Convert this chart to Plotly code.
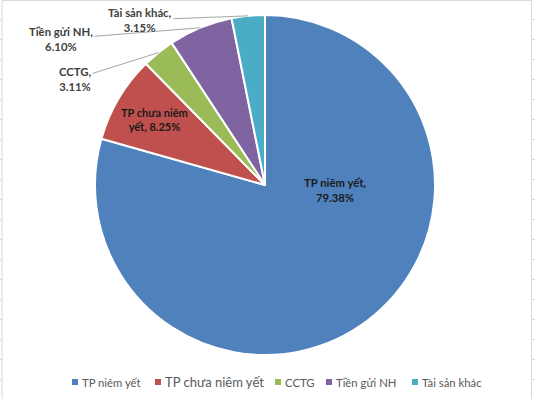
import math
import plotly.graph_objects as go

# ---- data ----
labels = ["TP niêm yết", "TP chưa niêm yết", "CCTG", "Tiền gửi NH", "Tài sản khác"]
values = [79.38, 8.25, 3.11, 6.10, 3.15]
colors = ["#4F81BD", "#C0504D", "#9BBB59", "#8064A2", "#4BACC6"]

W, H = 535, 399
FONT = "Lato"

def px(x):
    return x / W

def py(y):
    return 1 - y / H

# pie geometry (pixels)
cx, cy, r = 265, 185, 170

fig = go.Figure()
fig.add_trace(go.Pie(
    labels=labels, values=values, sort=False, direction="clockwise", rotation=0,
    marker=dict(colors=colors, line=dict(color="white", width=2)),
    textinfo="none", hoverinfo="label+percent", showlegend=False,
    domain=dict(x=[px(cx - r), px(cx + r)], y=[py(cy + r), py(cy - r)]),
))

total = sum(values)
cum = 0
mids = []
for v in values:
    mids.append((cum + v / 2) / total)
    cum += v

def edge(f):
    a = 2 * math.pi * f
    return cx + r * math.sin(a), cy - r * math.cos(a)

def pct(v):
    return f"{v:.2f}%"

LBL = 11.3
annotations = []
# inside labels
annotations.append(dict(x=px(335), y=py(190), xref="paper", yref="paper",
                        xanchor="center", yanchor="middle",
                        text=f"<b>{labels[0]},<br>{pct(values[0])}</b>", showarrow=False,
                        font=dict(family=FONT, size=LBL, color="#1a1a1a"), align="center"))
annotations.append(dict(x=px(154), y=py(119), xref="paper", yref="paper",
                        xanchor="center", yanchor="middle",
                        text=f"<b>TP chưa niêm<br>yết, {pct(values[1])}</b>", showarrow=False,
                        font=dict(family=FONT, size=LBL - 0.3, color="#1a1a1a"), align="center"))

# outside labels with leader lines
outside = {2: (75, 79), 3: (61, 39), 4: (140, 20)}
for i, (lx, ly) in outside.items():
    ex, ey = edge(mids[i])
    annotations.append(dict(
        x=px(ex), y=py(ey), xref="paper", yref="paper",
        ax=lx - ex, ay=ly - ey, axref="pixel", ayref="pixel",
        text=f"<b>{labels[i]},<br>{pct(values[i])}</b>",
        showarrow=True, arrowhead=0, arrowwidth=1, arrowcolor="#A6A6A6", standoff=0,
        font=dict(family=FONT, size=LBL, color="#404040"), align="center"))

# manual legend
shapes = []
leg_sq = [75, 158, 278, 329, 415]
leg_y = 382
for i, lab in enumerate(labels):
    sx = leg_sq[i]
    shapes.append(dict(type="rect", xref="paper", yref="paper",
                       x0=px(sx - 3), x1=px(sx + 3), y0=py(leg_y + 3), y1=py(leg_y - 3),
                       fillcolor=colors[i], line=dict(width=0)))
    size = 13 if i == 1 else 11.3
    annotations.append(dict(x=px(sx + 5), y=py(leg_y), xref="paper", yref="paper",
                            xanchor="left", yanchor="middle", text=lab, showarrow=False,
                            font=dict(family=FONT, size=size, color="#595959")))

# sheet-like border
gray = "#D9D9D9"
shapes.append(dict(type="line", xref="paper", yref="paper", x0=px(2), x1=px(2), y0=0, y1=1,
                   line=dict(color=gray, width=1)))
shapes.append(dict(type="line", xref="paper", yref="paper", x0=px(531.5), x1=px(531.5), y0=0, y1=1,
                   line=dict(color=gray, width=1)))
shapes.append(dict(type="line", xref="paper", yref="paper", x0=px(2), x1=px(531.5), y0=py(0.5), y1=py(0.5),
                   line=dict(color=gray, width=1)))
for k in range(20):
    ty = 19.5 + 20 * k
    if ty > H:
        break
    shapes.append(dict(type="line", xref="paper", yref="paper", x0=0, x1=px(2), y0=py(ty), y1=py(ty),
                       line=dict(color=gray, width=1)))
    shapes.append(dict(type="line", xref="paper", yref="paper", x0=px(531.5), x1=1, y0=py(ty), y1=py(ty),
                       line=dict(color=gray, width=1)))

fig.update_layout(
    width=W, height=H, margin=dict(l=0, r=0, t=0, b=0),
    paper_bgcolor="white", plot_bgcolor="white",
    annotations=annotations, shapes=shapes, showlegend=False,
    font=dict(family=FONT),
)
fig.write_html("out.html", config={"displayModeBar": False},
               post_script="document.body.style.margin='0';document.body.style.overflow='hidden';")
